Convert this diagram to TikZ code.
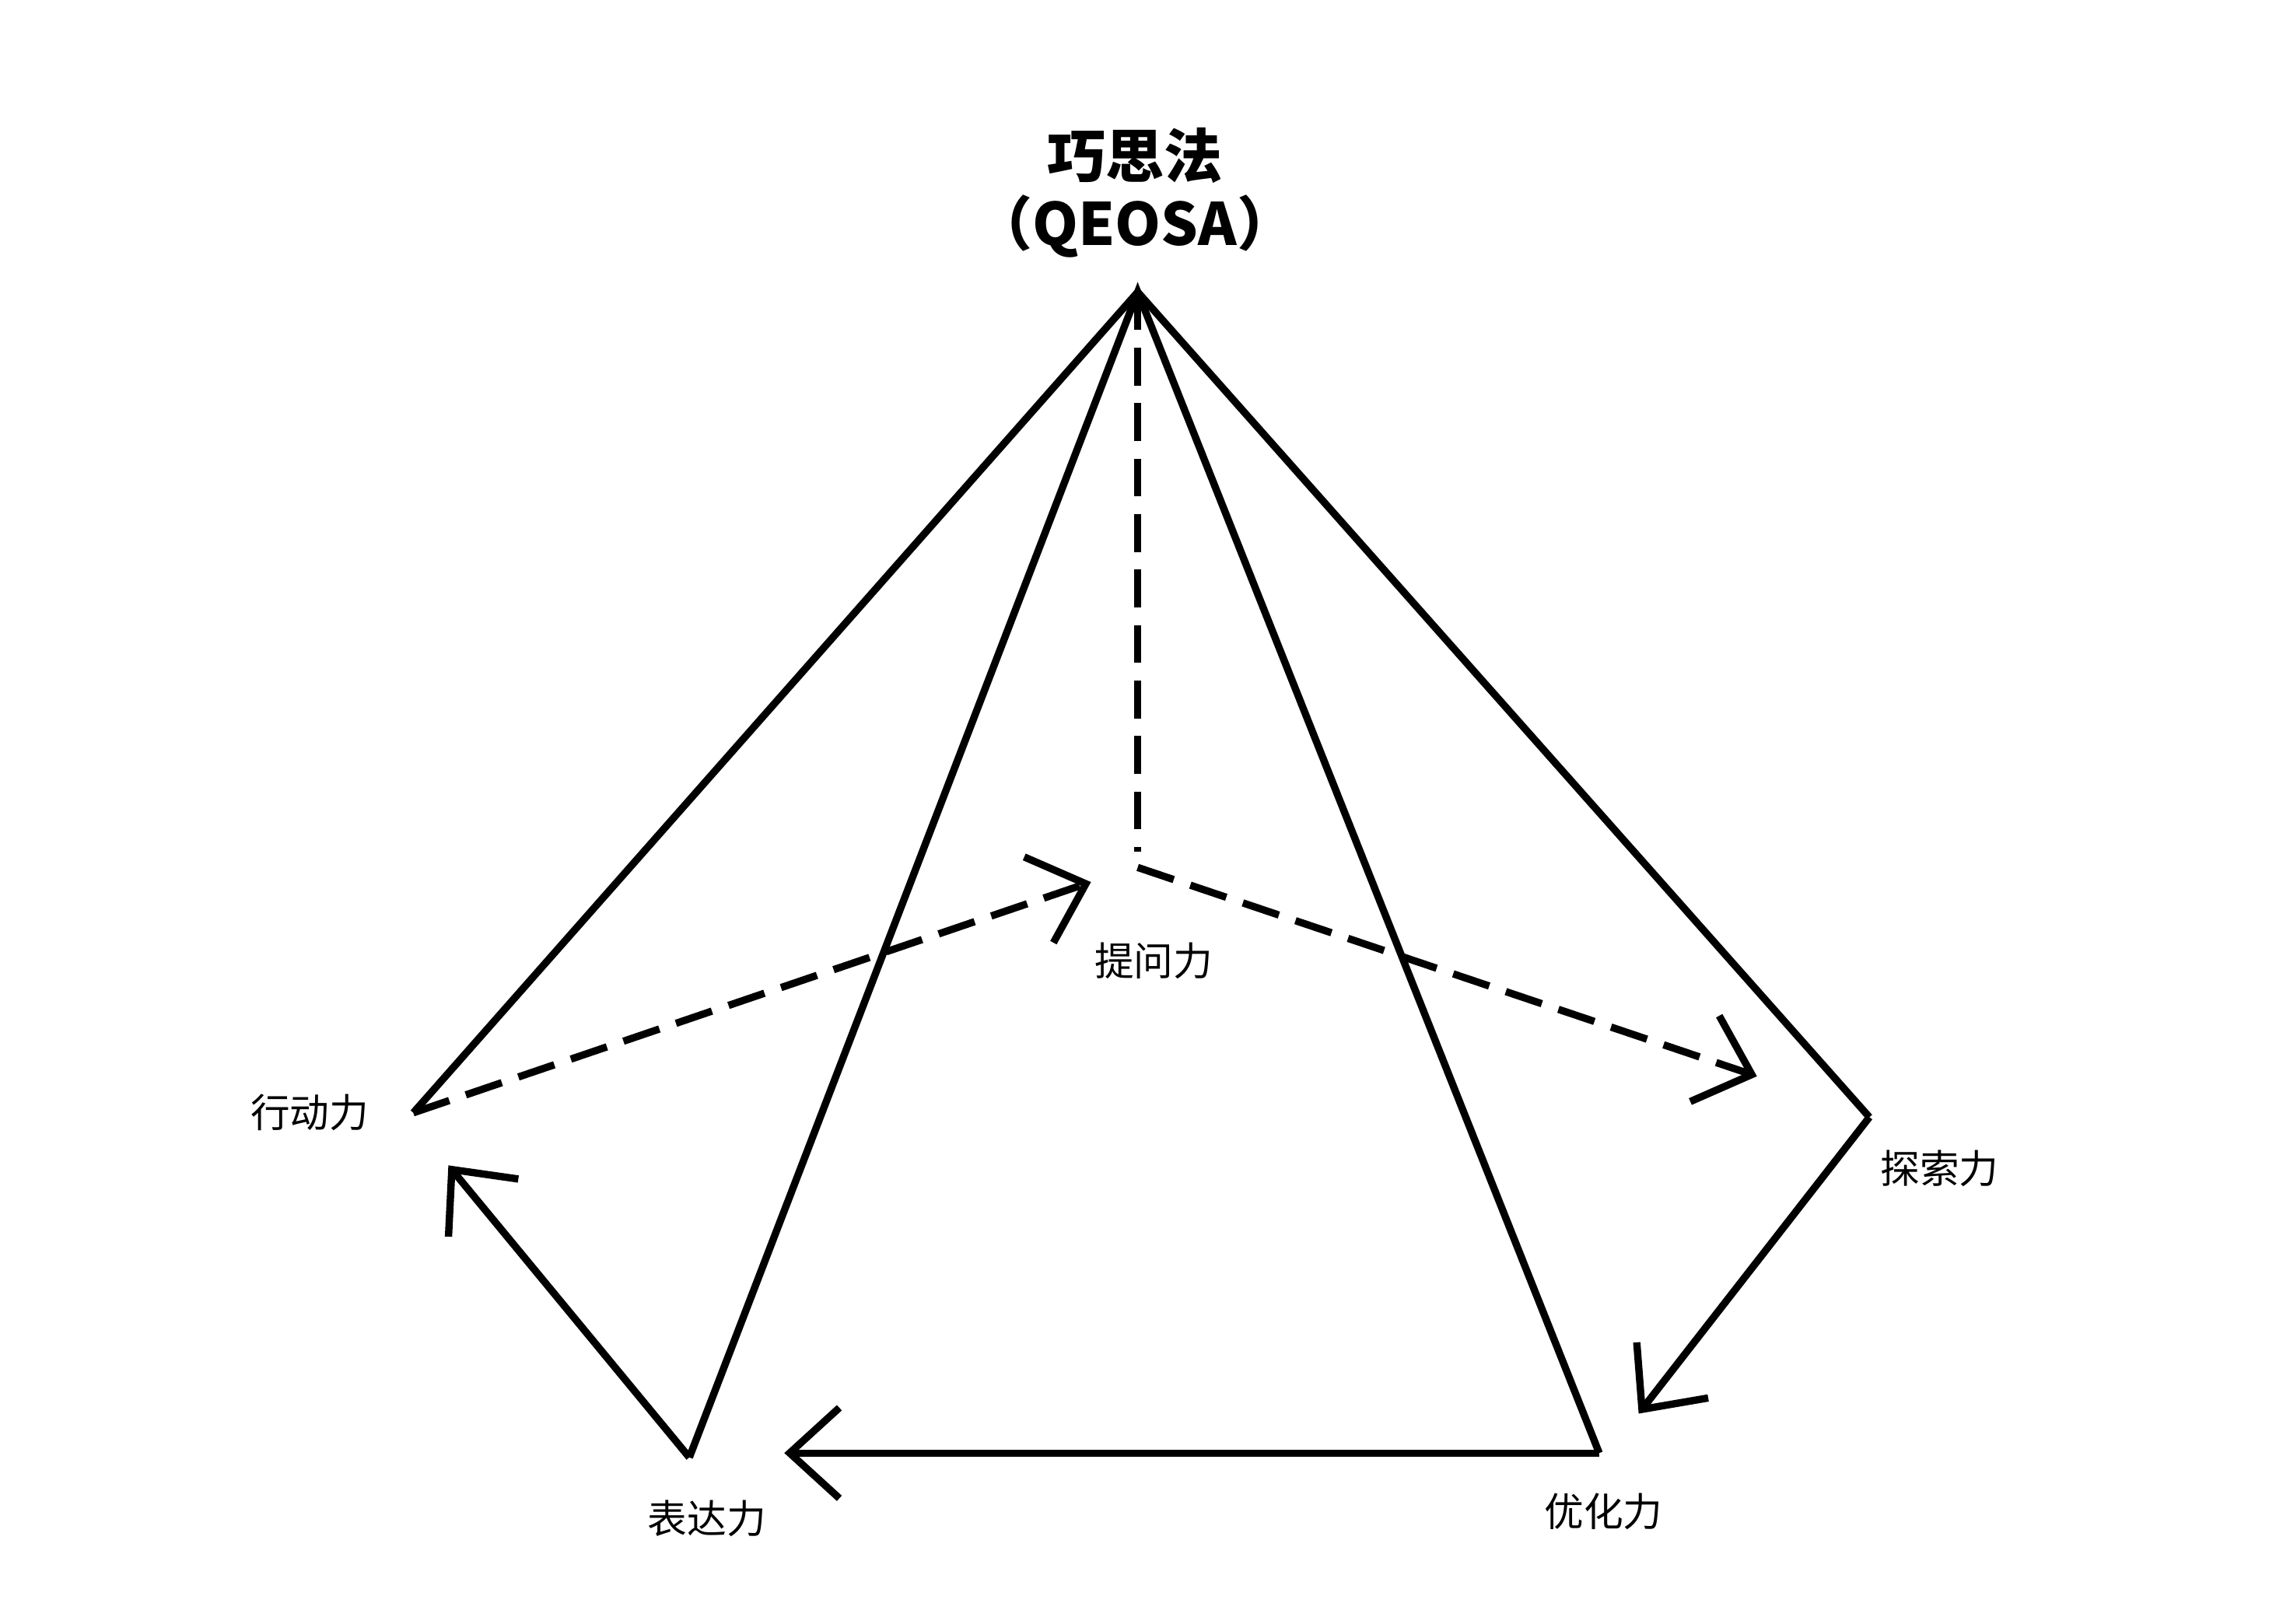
\documentclass[tikz,border=0pt]{standalone}
\usepackage{fontspec}
\setmainfont{Noto Sans CJK SC}
\usetikzlibrary{arrows.meta}
\begin{document}
\begin{tikzpicture}[x=1pt,y=-1pt,
  edge/.style={line width=5pt,line join=miter},
  dash5/.style={edge,dash pattern=on 26pt off 12pt},
  tip/.style={-{Straight Barb[length=34pt,width=62pt,line width=5pt]}},
  lbl/.style={font=\fontsize{27}{30}\selectfont},
  ttl/.style={font=\bfseries\fontsize{40}{46}\selectfont,align=center}]
\useasboundingbox[fill=white] (0,0) rectangle (1568,1112);
\coordinate (A) at (779,200);
\coordinate (L) at (283,762);
\coordinate (E) at (472,998);
\coordinate (O) at (1095,995);
\coordinate (R) at (1280,765);
\coordinate (C) at (779,583);
\coordinate (C2) at (779,594);
\coordinate (Q) at (747,604);
\coordinate (X) at (1203,737);
\coordinate (O2) at (1122,968);
\coordinate (E2) at (537,995);
\coordinate (L2) at (307,798);
\draw[edge] (L) -- (A) -- (R);
\draw[edge] (E) -- (A) -- (O);
\draw[dash5] (A) -- (C);
\draw[dash5,tip] (L) -- (Q);
\draw[dash5,tip] (C2) -- (X);
\draw[edge,tip] (R) -- (O2);
\draw[edge,tip] (O) -- (E2);
\draw[edge,tip] (E) -- (L2);
\node[ttl] (t) at (777,132) {巧思法\\（QEOSA）};
\node[lbl] (q) at (790,658) {提问力};
\node[lbl] (r) at (1328,800) {探索力};
\node[lbl] (o) at (1098,1035) {优化力};
\node[lbl] (e) at (484,1040) {表达力};
\node[lbl] (l) at (212,762) {行动力};
\end{tikzpicture}
\end{document}
